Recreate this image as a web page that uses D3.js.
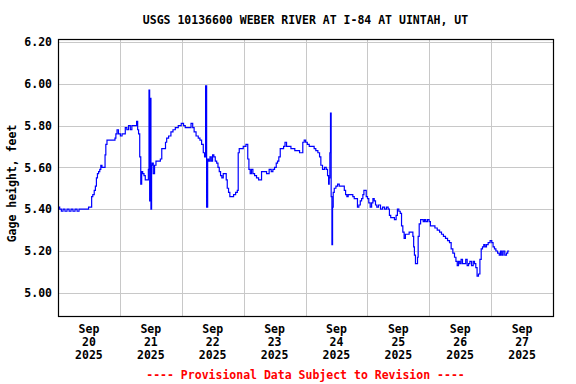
<!DOCTYPE html>
<html>
<head>
<meta charset="utf-8">
<script src="https://cdn.jsdelivr.net/npm/d3@7"></script>
<style>
  body { margin: 0; background: #fff; }
  svg text { font-family: "DejaVu Sans Mono", monospace; font-weight: bold; }
</style>
</head>
<body>
<div id="chart"></div>
<script>

// hours after 2025-09-20 00:00 (local), gage height in feet
const hours = [
  0.3, 1.0, 1.6, 2.3, 3.1, 3.9, 4.7, 5.4, 6.2, 7.0, 7.8, 8.5, 9.3, 10.1, 10.9, 11.6, 12.1, 12.9,
  13.2, 13.8, 14.3, 14.7, 15.1, 15.5, 16.0, 16.4, 16.8, 17.3, 18.1, 18.4, 18.7, 19.3, 20.5, 22.0,
  22.2, 22.7, 23.1, 23.8, 24.6, 25.1, 25.8, 26.4, 27.0, 27.7, 28.4, 28.9, 30.2, 30.8, 31.0, 31.5,
  31.9, 32.3, 32.6, 33.1, 33.6, 34.1, 34.9, 35.2, 35.4, 35.7, 35.9, 36.2, 36.4,
  36.7, 37.2, 37.7, 38.3, 39.3, 40.1, 40.4, 41.5, 41.9, 42.4, 43.4, 44.2, 45.0, 46.0, 47.3, 48.3,
  49.1, 49.6, 51.2, 52.0, 52.5, 53.1, 54.0, 54.8, 55.3, 56.1, 56.6, 57.1, 57.4, 57.9, 58.2, 58.7,
  59.2, 59.7, 60.2, 60.7, 61.3, 61.8, 62.3, 62.8, 63.3, 63.8, 64.4, 65.1, 65.4, 65.9, 66.4, 66.9,
  67.7, 68.5, 69.3, 69.8, 70.0, 70.6, 71.3, 72.4, 73.4,
  73.8, 74.3, 74.8, 75.3, 75.9, 76.6, 77.4, 78.2, 78.7, 79.2, 80.3, 81.5, 82.3, 83.1, 83.6, 84.4,
  84.9, 85.4, 85.9, 86.5, 87.2, 87.8, 88.3, 89.0, 90.1, 90.6, 91.6, 92.1, 92.9, 93.4, 94.0, 94.7,
  95.2, 95.8, 96.3, 97.1, 97.8, 99.1, 99.6, 100.4, 101.2, 101.7, 102.2, 103.0, 103.8, 104.3, 104.8,
  105.1, 105.3, 105.6, 105.8, 106.1, 106.4, 106.6, 106.9, 107.4, 108.2,
  108.7, 109.5, 110.8, 111.3, 111.8, 112.3, 112.8, 113.6, 114.1, 114.6, 115.2, 115.9, 116.4, 117.0,
  117.5, 118.0, 118.5, 118.8, 119.3, 119.8, 120.3, 120.8, 121.4, 121.9, 122.4, 122.9, 123.4, 123.9,
  124.7, 125.5, 126.3, 127.0, 127.8, 128.3, 128.8, 129.3, 130.1, 130.9, 131.4, 131.9, 132.5, 133.0,
  133.5, 134.0, 134.5, 135.0, 135.8, 136.6, 137.4, 137.9,
  138.0, 138.5, 138.8, 139.3, 139.6, 139.8, 140.4, 140.9, 141.4, 141.9, 142.4, 142.9, 143.7, 144.2,
  144.7, 145.8, 146.6, 147.6, 148.4, 149.1, 149.9, 150.7, 151.5, 152.2, 152.8, 153.5, 154.1, 154.6,
  155.1, 155.6, 156.1, 156.6, 157.2, 157.9, 158.4, 159.0, 159.5, 160.0, 160.8, 161.3, 161.8, 162.3,
  162.8, 163.4, 163.9, 164.4, 164.9, 165.4, 165.9, 166.5, 167.2, 168.0, 168.5, 169.0, 169.6, 170.1,
  170.9, 171.4, 171.9, 172.4, 172.9, 173.7, 174.2, 174.7, 175.0
];
const gage = [
  5.41, 5.40, 5.39, 5.40, 5.39, 5.40, 5.39, 5.40, 5.39, 5.40, 5.39, 5.40, 5.40, 5.40, 5.40, 5.40, 5.41, 5.41,
  5.46, 5.47, 5.49, 5.51, 5.55, 5.57, 5.58, 5.59, 5.61, 5.60, 5.60, 5.66, 5.71, 5.73, 5.73, 5.73,
  5.74, 5.76, 5.78, 5.76, 5.75, 5.76, 5.76, 5.79, 5.78, 5.80, 5.78, 5.80, 5.80, 5.82, 5.78, 5.76,
  5.65, 5.52, 5.58, 5.57, 5.56, 5.54, 5.54, 5.59, 5.97, 5.44, 5.93, 5.40, 5.61,
  5.62, 5.57, 5.61, 5.63, 5.63, 5.64, 5.69, 5.69, 5.72, 5.74, 5.75, 5.77, 5.78, 5.79, 5.80, 5.81,
  5.80, 5.79, 5.79, 5.81, 5.79, 5.77, 5.75, 5.74, 5.73, 5.71, 5.67, 5.65, 5.99, 5.41, 5.64, 5.63,
  5.65, 5.63, 5.66, 5.65, 5.63, 5.62, 5.60, 5.58, 5.56, 5.55, 5.57, 5.57, 5.54, 5.50, 5.48, 5.46,
  5.46, 5.47, 5.48, 5.49, 5.67, 5.69, 5.69, 5.70, 5.71,
  5.64, 5.59, 5.57, 5.59, 5.57, 5.56, 5.55, 5.54, 5.54, 5.58, 5.58, 5.57, 5.59, 5.58, 5.59, 5.60,
  5.62, 5.63, 5.65, 5.69, 5.69, 5.70, 5.72, 5.70, 5.70, 5.69, 5.69, 5.68, 5.68, 5.68, 5.67, 5.67,
  5.72, 5.73, 5.72, 5.71, 5.70, 5.70, 5.69, 5.68, 5.67, 5.65, 5.61, 5.59, 5.60, 5.59, 5.56,
  5.52, 5.55, 5.67, 5.86, 5.46, 5.23, 5.41, 5.48, 5.50, 5.51,
  5.52, 5.51, 5.51, 5.49, 5.47, 5.46, 5.47, 5.47, 5.47, 5.46, 5.45, 5.45, 5.41, 5.42,
  5.44, 5.45, 5.47, 5.49, 5.49, 5.46, 5.45, 5.43, 5.41, 5.43, 5.45, 5.44, 5.42, 5.41,
  5.42, 5.40, 5.41, 5.40, 5.41, 5.40, 5.37, 5.36, 5.36, 5.35, 5.37, 5.40, 5.39, 5.38,
  5.32, 5.29, 5.26, 5.28, 5.28, 5.29, 5.29, 5.27,
  5.22, 5.18, 5.14, 5.14, 5.17, 5.27, 5.33, 5.35, 5.35, 5.34, 5.35, 5.34, 5.35, 5.34,
  5.32, 5.32, 5.31, 5.30, 5.29, 5.28, 5.27, 5.26, 5.25, 5.24, 5.21, 5.19, 5.17, 5.15,
  5.13, 5.15, 5.14, 5.16, 5.14, 5.14, 5.16, 5.13, 5.14, 5.15, 5.13, 5.15, 5.14, 5.12,
  5.08, 5.09, 5.16, 5.21, 5.22, 5.23, 5.22, 5.23, 5.24, 5.25, 5.24, 5.22, 5.21, 5.20,
  5.19, 5.18, 5.20, 5.18, 5.20, 5.18, 5.19, 5.20, 5.20
];

const yTicks = [5.00, 5.20, 5.40, 5.60, 5.80, 6.00, 6.20];
const dayLabels = ["20", "21", "22", "23", "24", "25", "26", "27"];
const monthLabel = "Sep";
const yearLabel = "2025";
const title = "USGS 10136600 WEBER RIVER AT I-84 AT UINTAH, UT";
const yTitle = "Gage height, feet";
const footNote = "---- Provisional Data Subject to Revision ----";

const start = new Date(2025, 8, 20);
const hourMs = 3600 * 1000;

const margin = {top: 39, right: 23, bottom: 68, left: 58};
const W = 576, H = 384;
const width = W - margin.left - margin.right;
const height = H - margin.top - margin.bottom;

const data = hours.map(function (h, i) {
  return {t: new Date(start.getTime() + h * hourMs), v: gage[i]};
});

const x = d3.scaleTime()
  .domain([start, d3.timeDay.offset(start, 8)])
  .range([0, width]);
const y = d3.scaleLinear()
  .domain([4.889, 6.214])
  .range([height, 0]);

const svg = d3.select("#chart").append("svg")
  .attr("width", W)
  .attr("height", H);

svg.append("text")
  .attr("x", margin.left + width / 2)
  .attr("y", 24)
  .attr("text-anchor", "middle")
  .style("font-size", "11.5px")
  .text(title);

const g = svg.append("g")
  .attr("transform", "translate(" + margin.left + "," + margin.top + ")");

// horizontal grid
g.selectAll(".hgrid")
  .data(yTicks)
  .enter().append("line")
  .attr("x1", 0).attr("x2", width)
  .attr("y1", function (d) { return Math.round(y(d)) + 0.5; })
  .attr("y2", function (d) { return Math.round(y(d)) + 0.5; })
  .attr("stroke", "#c8c8c8");

// vertical grid at midnight
const midnights = d3.timeDay.range(d3.timeDay.offset(start, 1), d3.timeDay.offset(start, 8));
g.selectAll(".vgrid")
  .data(midnights)
  .enter().append("line")
  .attr("y1", 0).attr("y2", height)
  .attr("x1", function (d) { return Math.round(x(d)) + 0.5; })
  .attr("x2", function (d) { return Math.round(x(d)) + 0.5; })
  .attr("stroke", "#c8c8c8");

const yAxis = d3.axisLeft(y)
  .tickValues(yTicks)
  .tickSize(0)
  .tickPadding(6)
  .tickFormat(d3.format(".2f"));
g.append("g").call(yAxis)
  .call(function (s) { s.select(".domain").remove(); })
  .selectAll("text")
  .style("font-size", "11.5px")
  .attr("fill", "#000");

// x labels at noon
const noons = dayLabels.map(function (d, i) {
  return new Date(start.getTime() + (i * 24 + 12) * hourMs);
});
const xl = g.selectAll(".xlab")
  .data(noons)
  .enter().append("text")
  .attr("text-anchor", "middle")
  .style("font-size", "11.5px")
  .attr("transform", function (d) { return "translate(" + x(d) + "," + (height + 17) + ")"; });
xl.append("tspan").attr("x", 0).attr("dy", 0).text(monthLabel);
xl.append("tspan").attr("x", 0).attr("dy", 13).text(function (d, i) { return dayLabels[i]; });
xl.append("tspan").attr("x", 0).attr("dy", 13).text(yearLabel);

const line = d3.line()
  .x(function (d) { return x(d.t); })
  .y(function (d) { return y(d.v); })
  .curve(d3.curveStep);

g.append("path")
  .datum(data)
  .attr("d", line)
  .attr("fill", "none")
  .attr("stroke", "#0000ff")
  .attr("stroke-width", 1.2);

g.append("rect")
  .attr("x", 0.5).attr("y", 0.5)
  .attr("width", width).attr("height", height)
  .attr("fill", "none")
  .attr("stroke", "#000")
  .attr("stroke-width", 1.2);

svg.append("text")
  .attr("transform", "translate(16," + (margin.top + height / 2 + 6) + ") rotate(-90)")
  .attr("text-anchor", "middle")
  .style("font-size", "11.5px")
  .text(yTitle);

svg.append("text")
  .attr("x", margin.left + width / 2)
  .attr("y", 379)
  .attr("text-anchor", "middle")
  .attr("fill", "#ff0000")
  .style("font-size", "11.5px")
  .text(footNote);
</script>
</body>
</html>
